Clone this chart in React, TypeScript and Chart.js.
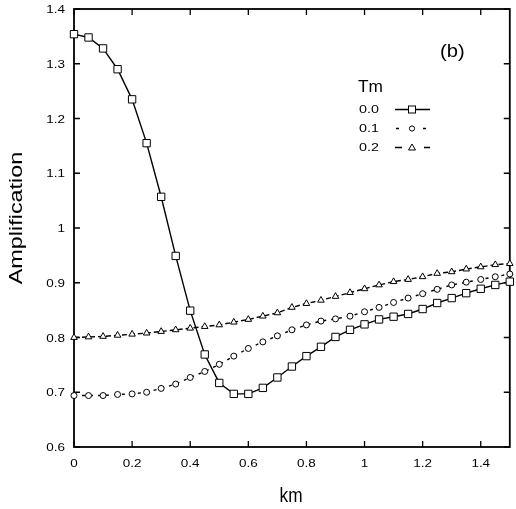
import React, { useEffect, useRef } from 'react';
import { Chart, registerables } from 'chart.js';

Chart.register(...registerables);

// wavenumber km (x axis)
const kValues = [0, 0.05, 0.1, 0.15, 0.2, 0.25, 0.3, 0.35, 0.4, 0.45, 0.5, 0.55, 0.6, 0.65, 0.7, 0.75, 0.8, 0.85, 0.9, 0.95, 1.0, 1.05, 1.1, 1.15, 1.2, 1.25, 1.3, 1.35, 1.4, 1.45, 1.5];

// amplification for Tm = 0.0 / 0.1 / 0.2
const ampTm00 = [1.354, 1.348, 1.328, 1.29, 1.235, 1.155, 1.057, 0.949, 0.849, 0.769, 0.717, 0.697, 0.697, 0.708, 0.727, 0.747, 0.766, 0.783, 0.801, 0.814, 0.824, 0.833, 0.838, 0.843, 0.852, 0.863, 0.872, 0.881, 0.889, 0.896, 0.902];
const ampTm01 = [0.694, 0.694, 0.694, 0.696, 0.697, 0.7, 0.707, 0.715, 0.727, 0.738, 0.751, 0.766, 0.78, 0.792, 0.803, 0.814, 0.823, 0.83, 0.834, 0.839, 0.847, 0.855, 0.864, 0.872, 0.88, 0.888, 0.896, 0.901, 0.906, 0.911, 0.916];
const ampTm02 = [0.8, 0.801, 0.802, 0.804, 0.806, 0.808, 0.811, 0.814, 0.817, 0.82, 0.823, 0.828, 0.833, 0.839, 0.845, 0.855, 0.862, 0.868, 0.875, 0.882, 0.889, 0.896, 0.902, 0.906, 0.911, 0.917, 0.92, 0.925, 0.929, 0.933, 0.935];

const tmLabels = ['0.0', '0.1', '0.2'];
const legendTitle = 'Tm';
const panelTag = '(b)';
const xTitle = 'km';
const yTitle = 'Amplification';

const FONT = '"Liberation Sans", Arial, Helvetica, sans-serif';

const fmt = (v: number) => String(Number(v.toFixed(2)));

function drawText(ctx: CanvasRenderingContext2D, text: string, x: number, y: number, size: number, sx: number, align: 'left' | 'center' | 'right') {
  ctx.save();
  ctx.font = `${size}px ${FONT}`;
  ctx.textAlign = 'left';
  ctx.textBaseline = 'alphabetic';
  ctx.fillStyle = '#000';
  const w = ctx.measureText(text).width * sx;
  const left = align === 'center' ? x - w / 2 : align === 'right' ? x - w : x;
  ctx.translate(left, y);
  ctx.scale(sx, 1);
  ctx.fillText(text, 0, 0);
  ctx.restore();
}

const framePlugin = {
  id: 'frame',
  beforeDatasetsDraw(chart: any) {
    const { ctx, chartArea: a, scales } = chart;
    const xs = scales.x;
    const ys = scales.y;
    ctx.save();
    ctx.strokeStyle = '#000';
    ctx.lineWidth = 1.8;
    ctx.strokeRect(a.left, a.top, a.right - a.left, a.bottom - a.top);
    ctx.lineWidth = 1.3;
    ctx.beginPath();
    xs.ticks.forEach((t: any) => {
      const p = xs.getPixelForValue(t.value);
      ctx.moveTo(p, a.bottom);
      ctx.lineTo(p, a.bottom - 6);
      ctx.moveTo(p, a.top);
      ctx.lineTo(p, a.top + 6);
    });
    ys.ticks.forEach((t: any) => {
      const p = ys.getPixelForValue(t.value);
      ctx.moveTo(a.left, p);
      ctx.lineTo(a.left + 6, p);
      ctx.moveTo(a.right, p);
      ctx.lineTo(a.right - 6, p);
    });
    ctx.stroke();
    ctx.restore();

    xs.ticks.forEach((t: any) => {
      drawText(ctx, fmt(t.value), xs.getPixelForValue(t.value), a.bottom + 20, 11.5, 1.17, 'center');
    });
    ys.ticks.forEach((t: any) => {
      drawText(ctx, fmt(t.value), a.left - 9, ys.getPixelForValue(t.value) + 4.2, 11.5, 1.17, 'right');
    });
  },
  afterDraw(chart: any) {
    const { ctx, chartArea: a } = chart;
    // axis titles
    drawText(ctx, xTitle, 291, 502, 21, 0.82, 'center');
    ctx.save();
    ctx.translate(22, (a.top + a.bottom) / 2 - 10);
    ctx.rotate(-Math.PI / 2);
    drawText(ctx, yTitle, 0, 0, 18, 1.3, 'center');
    ctx.restore();

    drawText(ctx, panelTag, 440, 57, 18, 1.12, 'left');
    drawText(ctx, legendTitle, 358, 92, 16, 1.08, 'left');

    const rows = [109.5, 128.5, 147.5];
    tmLabels.forEach((lab, i) => drawText(ctx, lab, 359, rows[i] + 3.8, 11, 1.3, 'left'));

    ctx.save();
    ctx.strokeStyle = '#000';
    ctx.fillStyle = '#fff';
    ctx.lineWidth = 1.4;
    // 0.0 solid with square
    ctx.beginPath();
    ctx.moveTo(395, rows[0]);
    ctx.lineTo(430, rows[0]);
    ctx.stroke();
    ctx.lineWidth = 1;
    ctx.fillRect(408.5, rows[0] - 3.5, 7, 7);
    ctx.strokeRect(408.5, rows[0] - 3.5, 7, 7);
    // 0.1 short dashes with circle
    ctx.lineWidth = 1.4;
    ctx.beginPath();
    ctx.moveTo(396, rows[1]);
    ctx.lineTo(399, rows[1]);
    ctx.moveTo(423, rows[1]);
    ctx.lineTo(426, rows[1]);
    ctx.stroke();
    ctx.lineWidth = 1;
    ctx.beginPath();
    ctx.arc(412, rows[1], 2.6, 0, Math.PI * 2);
    ctx.fill();
    ctx.stroke();
    // 0.2 long dashes with triangle
    ctx.lineWidth = 1.4;
    ctx.beginPath();
    ctx.moveTo(395, rows[2]);
    ctx.lineTo(402, rows[2]);
    ctx.moveTo(424, rows[2]);
    ctx.lineTo(430, rows[2]);
    ctx.stroke();
    ctx.lineWidth = 1;
    ctx.beginPath();
    ctx.moveTo(412, rows[2] - 3.5);
    ctx.lineTo(415.5, rows[2] + 2.5);
    ctx.lineTo(408.5, rows[2] + 2.5);
    ctx.closePath();
    ctx.fill();
    ctx.stroke();
    ctx.restore();
  },
};

const toPoints = (ys: number[]) => kValues.map((k, i) => ({ x: k, y: ys[i] }));

const App: React.FC = () => {
  const chartRef = useRef<HTMLCanvasElement | null>(null);

  useEffect(() => {
    if (!chartRef.current) return;
    const ctx = chartRef.current.getContext('2d');
    if (!ctx) return;

    const common = {
      borderColor: '#000',
      pointBorderColor: '#000',
      pointBackgroundColor: '#fff',
      pointBorderWidth: 1,
      borderWidth: 1.4,
      tension: 0,
      clip: false as const,
    };

    const chartInstance = new Chart(ctx, {
      type: 'line',
      data: {
        datasets: [
          { ...common, label: tmLabels[0], data: toPoints(ampTm00), pointStyle: 'rect', pointRadius: 5.2 },
          { ...common, label: tmLabels[1], data: toPoints(ampTm01), pointStyle: 'circle', pointRadius: 3, borderDash: [3, 5] },
          { ...common, label: tmLabels[2], data: toPoints(ampTm02), pointStyle: 'triangle', pointRadius: 3.8, borderDash: [5, 3] },
        ],
      },
      options: {
        animation: false,
        responsive: false,
        events: [],
        layout: { padding: { top: 9, right: 5, left: 0, bottom: 0 } },
        plugins: { legend: { display: false }, tooltip: { enabled: false } },
        scales: {
          x: {
            type: 'linear',
            min: 0,
            max: 1.5,
            grid: { display: false },
            border: { display: false },
            ticks: { display: false, stepSize: 0.2, includeBounds: false },
            afterFit: (s: any) => { s.height = 62; },
          },
          y: {
            type: 'linear',
            min: 0.6,
            max: 1.4,
            grid: { display: false },
            border: { display: false },
            ticks: { display: false, stepSize: 0.1 },
            afterFit: (s: any) => { s.width = 74; },
          },
        },
      },
      plugins: [framePlugin],
    });

    return () => chartInstance.destroy();
  }, []);

  return (
    <div style={{ position: 'absolute', left: 0, top: 0, width: 516, height: 509, background: '#fff' }}>
      <canvas ref={chartRef} width={516} height={509} style={{ display: 'block' }} />
    </div>
  );
};

export default App;
